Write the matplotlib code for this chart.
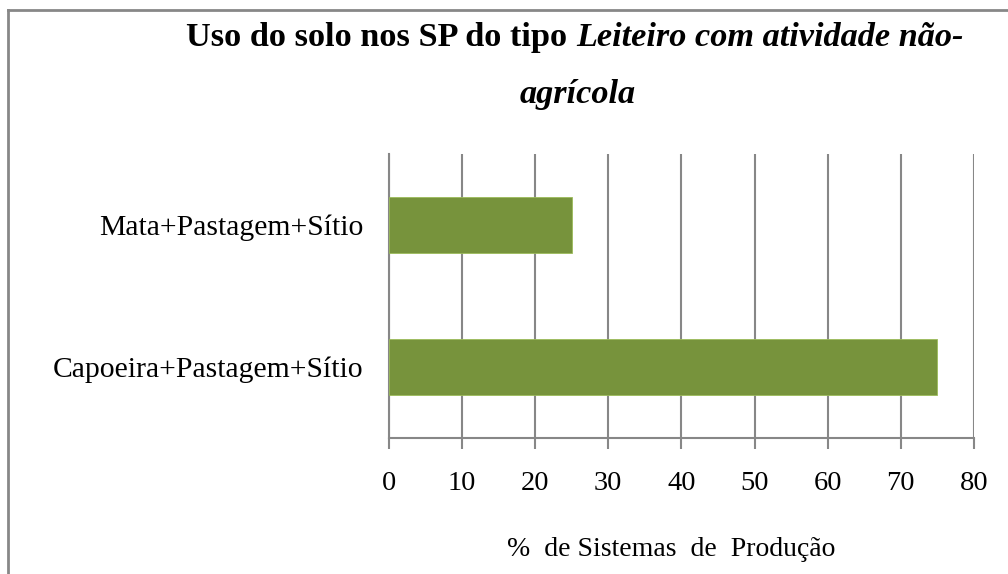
import matplotlib
matplotlib.use("Agg")
import matplotlib.pyplot as plt
from matplotlib.lines import Line2D

categories = ["Capoeira+Pastagem+Sítio", "Mata+Pastagem+Sítio"]
values = [75, 25]
xticks = [0, 10, 20, 30, 40, 50, 60, 70, 80]
title_plain = "Uso do solo nos SP do tipo "
title_italic = "Leiteiro com atividade não-"
title_line2 = "agrícola"
xlabel = "%  de Sistemas  de  Produção"

W, H = 1008, 574
fig = plt.figure(figsize=(W / 100, H / 100), dpi=100)
plt.rcParams['font.family'] = ['Liberation Serif', 'DejaVu Serif']

grey = "#878787"
green = "#77933C"

# outer border (top and left visible)
fig.add_artist(Line2D([8 / W, 8 / W], [0, 1 - 10 / H], transform=fig.transFigure, color=grey, lw=2))
fig.add_artist(Line2D([8 / W, 1.2], [1 - 10 / H, 1 - 10 / H], transform=fig.transFigure, color=grey, lw=2))

left, right = 388.7 / W, 974 / W
top, bottom = 1 - 154 / H, 1 - 438 / H
ax = fig.add_axes([left, bottom, right - left, top - bottom])

ax.barh(range(len(categories)), values, height=0.4, color=green, edgecolor="#9BBB59", linewidth=0.6, zorder=3)
ax.set_xlim(0, 80)
ax.set_ylim(-0.5, len(categories) - 0.5)
ax.set_xticks(xticks)
ax.set_xticklabels([str(t) for t in xticks], fontsize=20.5)
ax.set_yticks(range(len(categories)))
ax.set_yticklabels(categories, fontsize=21.3)
ax.tick_params(axis='y', length=0, pad=18)
ax.tick_params(axis='x', length=8, width=1.5, color=grey, pad=16, direction='out')
ax.grid(axis='x', color=grey, lw=1.5, zorder=0)
for s in ["top", "right"]:
    ax.spines[s].set_visible(False)
for s in ["left", "bottom"]:
    ax.spines[s].set_color(grey)
    ax.spines[s].set_linewidth(1.5)

fig.text(506.7 / W, 1 - 555.7 / H, xlabel, fontsize=20, ha='left', va='baseline')

# title with mixed styles
fig.canvas.draw()
r = fig.canvas.get_renderer()
t1 = fig.text(186 / W, 1 - 46 / H, title_plain, fontsize=24.7, fontweight='bold', ha='left', va='baseline')
bb = t1.get_window_extent(renderer=r)
t2 = fig.text(bb.x1 / W, 1 - 46 / H, title_italic, fontsize=24.7, fontweight='bold', style='italic', ha='left', va='baseline')
fig.text(578 / W, 1 - 103 / H, title_line2, fontsize=24.7, fontweight='bold', style='italic', ha='center', va='baseline')

fig.savefig("out.png", dpi=100)
